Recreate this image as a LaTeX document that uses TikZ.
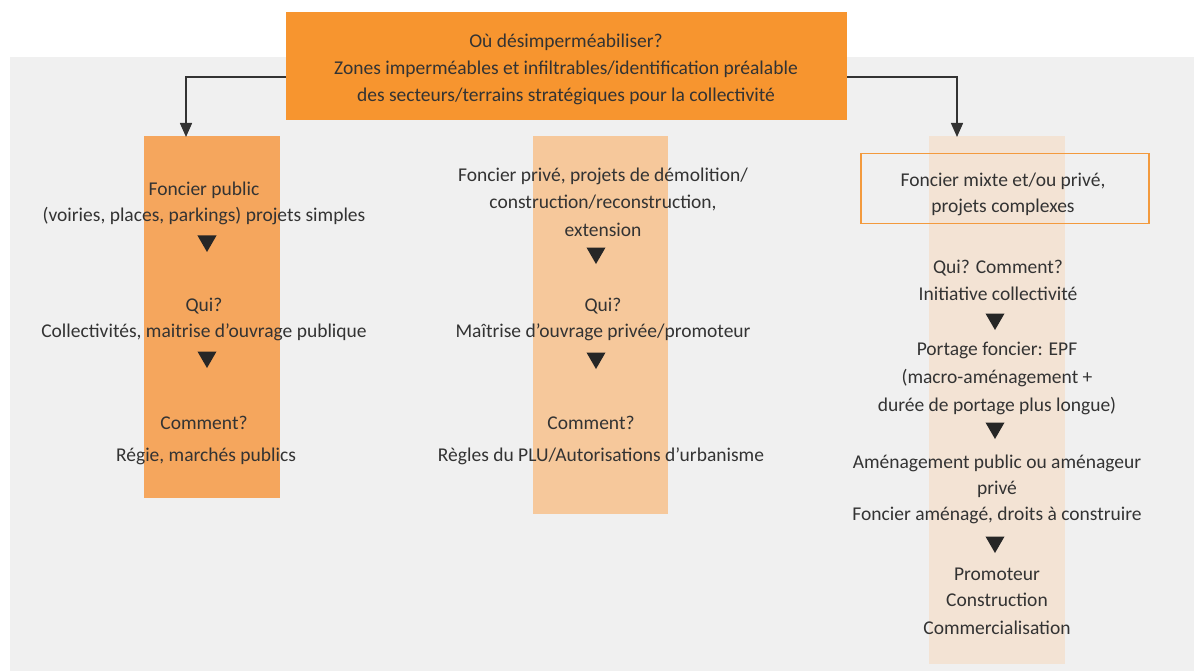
\documentclass[tikz,border=0pt]{standalone}
\usepackage{fontspec}
\setmainfont{Carlito}
\usetikzlibrary{arrows.meta,shapes.geometric}
\definecolor{panelgray}{HTML}{F0F0F0}
\definecolor{headorange}{HTML}{F7952F}
\definecolor{colpublic}{HTML}{F5A65D}
\definecolor{colprive}{HTML}{F6C89B}
\definecolor{colmixte}{HTML}{F3E3D4}
\definecolor{frameorange}{HTML}{F39A3D}
\definecolor{txt}{HTML}{333333}
\tikzset{
  lbl/.style={text=txt, font=\fontsize{19.5}{26}\selectfont, align=center, inner sep=0pt},
  tri/.style={regular polygon, regular polygon sides=3, shape border rotate=180,
              fill=black!85, inner sep=0pt, minimum size=22pt},
  link/.style={draw=black!80, line width=1.5pt, -{Triangle[width=12pt,length=14pt]}}
}
\begin{document}
\begin{tikzpicture}[x=1pt,y=-1pt]
\useasboundingbox (0,0) rectangle (1194,671);
% grey panel
\fill[panelgray] (10,57) rectangle (1194,671);
% three coloured columns
\fill[colpublic] (144,136) rectangle (280,498);
\fill[colprive] (533,136) rectangle (668,514);
\fill[colmixte] (929,136) rectangle (1065,664);

% heading box
\node[fill=headorange, minimum width=561pt, minimum height=108pt, inner sep=0pt,
      anchor=north west] (head) at (286,12) {};
\node[lbl] (h1) at (566,42) {Où désimperméabiliser?};
\node[lbl] (h2) at (566,69) {Zones imperméables et infiltrables/identification préalable};
\node[lbl] (h3) at (566,96) {des secteurs/terrains stratégiques pour la collectivité};

% branch endpoints
\coordinate (lend) at (186,137);
\coordinate (rend) at (957,137);
\draw[link] ([yshift=-11pt]head.west) -| (lend);
\draw[link] ([yshift=-11pt]head.east) -| (rend);

% left column: public land
\node[lbl] (a1) at (204,190) {Foncier public};
\node[lbl] (a2) at (204,216) {(voiries, places, parkings) projets simples};
\node[tri] (ta1) at (207,241) {};
\node[lbl] (a3) at (204,306) {Qui?};
\node[lbl] (a4) at (204,332) {Collectivités, maitrise d’ouvrage publique};
\node[tri] (ta2) at (207,357) {};
\node[lbl] (a5) at (204,423) {Comment?};
\node[lbl] (a6) at (206,456) {Régie, marchés publics};

% middle column: private land
\node[lbl] (b1) at (603,176) {Foncier privé, projets de démolition/};
\node[lbl] (b2) at (603,203) {construction/reconstruction,};
\node[lbl] (b3) at (603,230) {extension};
\node[tri] (tb1) at (596,253) {};
\node[lbl] (b4) at (603,306) {Qui?};
\node[lbl] (b5) at (603,332) {Maîtrise d’ouvrage privée/promoteur};
\node[tri] (tb2) at (596,358) {};
\node[lbl] (b6) at (591,423) {Comment?};
\node[lbl] (b7) at (601,456) {Règles du PLU/Autorisations d’urbanisme};

% right column: mixed land
\node[draw=frameorange, line width=1.5pt, minimum width=288pt, minimum height=70pt,
      anchor=north west] (cbox) at (860,153) {};
\node[lbl] (c1) at (1003,181) {Foncier mixte et/ou privé,};
\node[lbl] (c2) at (1003,207) {projets complexes};
\node[lbl] (c3) at (998,268) {Qui? Comment?};
\node[lbl] (c4) at (998,294) {Initiative collectivité};
\node[tri] (tc1) at (995,319) {};
\node[lbl] (c5) at (997,350) {Portage foncier: EPF};
\node[lbl] (c6) at (997,378) {(macro-aménagement +};
\node[lbl] (c7) at (997,406) {durée de portage plus longue)};
\node[tri] (tc2) at (995,428) {};
\node[lbl] (c8) at (997,463) {Aménagement public ou aménageur};
\node[lbl] (c9) at (997,489) {privé};
\node[lbl] (c10) at (997,515) {Foncier aménagé, droits à construire};
\node[tri] (tc3) at (995,542) {};
\node[lbl] (c11) at (997,574) {Promoteur};
\node[lbl] (c12) at (997,600) {Construction};
\node[lbl] (c13) at (997,628) {Commercialisation};
\end{tikzpicture}
\end{document}
